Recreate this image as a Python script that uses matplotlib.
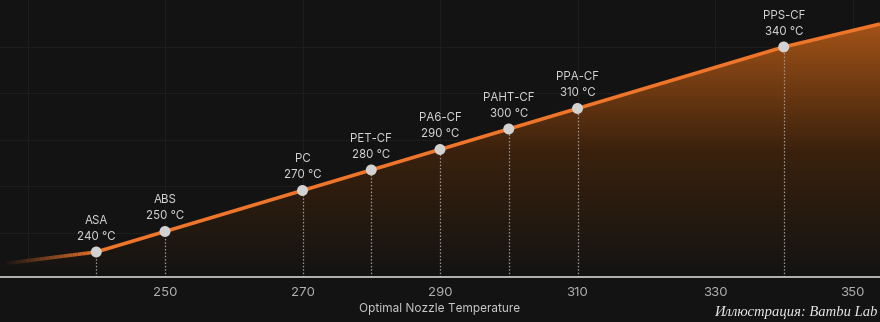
import matplotlib.pyplot as plt
import numpy as np
from matplotlib.colors import LinearSegmentedColormap
from matplotlib.patches import Polygon

# data
materials = ['ASA', 'ABS', 'PC', 'PET-CF', 'PA6-CF', 'PAHT-CF', 'PPA-CF', 'PPS-CF']
temps = [240, 250, 270, 280, 290, 300, 310, 340]
# where the curve enters and leaves the frame
curve_x = [227, 240, 250, 270, 280, 290, 300, 310, 340, 354]
curve_y = [234.5, 240, 250, 270, 280, 290, 300, 310, 340, 351.2]
xticks = [250, 270, 290, 310, 330, 350]

BG = '#131313'
ORANGE = '#ee752a'
FONT = ['Inter', 'DejaVu Sans']

fig = plt.figure(figsize=(8.8, 3.22), dpi=100, facecolor=BG)
ax = fig.add_axes([0, 1 - 277 / 322, 1, 277 / 322])
ax.set_facecolor(BG)
ax.set_xlim(226, 354)
ax.set_ylim(227.8, 362.9)

# faint grid
for gx in [230] + xticks:
    ax.axvline(gx, color='#1d1d1d', lw=0.8, zorder=0)
for gy in [340, 317.5, 294.8, 272.2, 249.5]:
    ax.axhline(gy, color='#1d1d1d', lw=0.8, zorder=0)

# gradient fill under the curve
cmap = LinearSegmentedColormap.from_list('fill', [BG, '#3a210d', '#a15217'])
grad = np.linspace(0, 1, 256).reshape(-1, 1)
img = ax.imshow(grad, cmap=cmap, aspect='auto', origin='lower',
                extent=[226, 354, 227.8, 350], zorder=1)
poly_x = [226] + curve_x + [354, 354, 226]
poly_y = [234] + curve_y + [351.2, 227.8, 227.8]
clip = Polygon(np.column_stack([poly_x, poly_y]), closed=True,
               facecolor='none', edgecolor='none')
ax.add_patch(clip)
img.set_clip_path(clip)

# curve, fading in from the left
ax.plot(curve_x[1:], curve_y[1:], color=ORANGE, lw=2.6, zorder=3,
        solid_capstyle='butt')
fx = np.linspace(curve_x[0], curve_x[1], 20)
fy = np.interp(fx, curve_x[:2], curve_y[:2])
for i in range(len(fx) - 1):
    ax.plot(fx[i:i + 2], fy[i:i + 2], color=ORANGE, lw=2.6,
            alpha=(i + 1) / len(fx), zorder=3, solid_capstyle='butt')

# dotted drop lines, points and labels
for name, t in zip(materials, temps):
    ax.plot([t, t], [227.8, t], color='#9a9a9a', lw=0.9, ls=(0, (1.2, 1.5)),
            zorder=2)
    ax.text(t, t + 4.5, f'{name}\n{t} ℃', ha='center', va='bottom',
            color='#d4d4d4', fontsize=8.3, family=FONT, linespacing=1.45,
            zorder=5)
ax.scatter(temps, temps, s=62, color='#d2d2d2', edgecolors='none', zorder=4)

# axis
for side in ['top', 'right', 'left']:
    ax.spines[side].set_visible(False)
ax.spines['bottom'].set_color('#cfcfcf')
ax.spines['bottom'].set_linewidth(1.2)
ax.set_yticks([])
ax.set_xticks(xticks)
ax.tick_params(axis='x', length=0, pad=7, colors='#b0b0b0', labelsize=9.5)
for lab in ax.get_xticklabels():
    lab.set_family(FONT)
ax.set_xlabel('Optimal Nozzle Temperature', color='#c8c8c8', fontsize=8.5,
              family=FONT, labelpad=3)

fig.text(0.997, 0.028, 'Иллюстрация: Bambu Lab', ha='right', va='center',
         color='#e8e8e8', fontsize=10.5, style='italic',
         family=['Liberation Serif', 'DejaVu Serif'])

fig.savefig('out.png', dpi=100, facecolor=BG)
